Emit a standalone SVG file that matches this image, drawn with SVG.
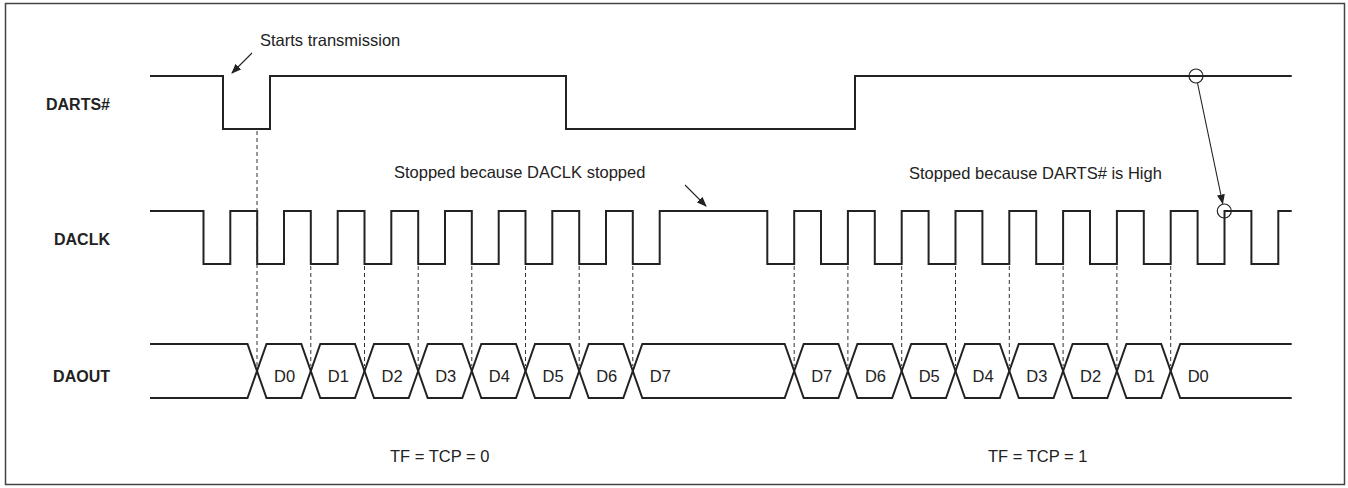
<svg xmlns="http://www.w3.org/2000/svg" width="1348" height="488" viewBox="0 0 1348 488">
<defs>
<style>
.frame{fill:#fff;stroke:#444;stroke-width:1.5}
.sig{fill:none;stroke:#222;stroke-width:2;stroke-linejoin:miter}
.dash{fill:none;stroke:#333;stroke-width:1;stroke-dasharray:4,3}
.ann{fill:none;stroke:#222;stroke-width:1.1}
.circ{fill:none;stroke:#222;stroke-width:1.2}
.lbl{font-family:"Liberation Sans",Arial,sans-serif;font-size:16px;font-weight:bold;fill:#222}
.txt{font-family:"Liberation Sans",Arial,sans-serif;font-size:16.5px;fill:#222}
</style>
<marker id="ah" markerWidth="10" markerHeight="8" refX="9" refY="4" orient="auto" markerUnits="userSpaceOnUse">
<path d="M0,0 L10,4 L0,8 Z" fill="#222"/>
</marker>
</defs>
<rect class="frame" x="5.5" y="3.5" width="1339" height="481"/>

<g id="DARTS">
<text class="lbl" x="110" y="110" text-anchor="end">DARTS#</text>
<path class="sig" d="M150,76 H223 V129 H270 V76 H566 V129 H855 V76 H1291.7"/>
</g>

<g id="DACLK">
<text class="lbl" x="110" y="244.5" text-anchor="end">DACLK</text>
<path class="sig" d="M150,211 H203.5 V264 H230.3 V211 H257.2 V264 H284 V211 H310.8 V264 H337.7 V211 H364.5 V264 H391.3 V211 H418.2 V264 H445 V211 H471.8 V264 H498.7 V211 H525.5 V264 H552.3 V211 H579.2 V264 H606 V211 H632.8 V264 H659.7 V211 H767.3 V264 H794.2 V211 H821 V264 H847.9 V211 H874.8 V264 H901.7 V211 H928.6 V264 H955.5 V211 H982.4 V264 H1009.3 V211 H1036.2 V264 H1063.1 V211 H1090 V264 H1116.9 V211 H1143.8 V264 H1170.7 V211 H1197.6 V264 H1224.5 V211 H1251.4 V264 H1278.3 V211 H1291.7"/>
</g>

<g id="DAOUT">
<text class="lbl" x="110" y="382" text-anchor="end">DAOUT</text>
<path class="sig" d="M150,344 H247.5 L266.5,398 H301.3 L320.3,344 H355 L374,398 H408.7 L427.7,344 H462.3 L481.3,398 H516 L535,344 H569.7 L588.7,398 H623.3 L642.3,344 H784.7 L803.7,398 H838.4 L857.4,344 H892.2 L911.2,398 H946 L965,344 H999.8 L1018.8,398 H1053.6 L1072.6,344 H1107.4 L1126.4,398 H1161.2 L1180.2,344 H1291.7"/>
<path class="sig" d="M150,398 H247.5 L266.5,344 H301.3 L320.3,398 H355 L374,344 H408.7 L427.7,398 H462.3 L481.3,344 H516 L535,398 H569.7 L588.7,344 H623.3 L642.3,398 H784.7 L803.7,344 H838.4 L857.4,398 H892.2 L911.2,344 H946 L965,398 H999.8 L1018.8,344 H1053.6 L1072.6,398 H1107.4 L1126.4,344 H1161.2 L1180.2,398 H1291.7"/>
<text class="txt" x="274" y="382">D0</text>
<text class="txt" x="327.8" y="382">D1</text>
<text class="txt" x="381.5" y="382">D2</text>
<text class="txt" x="435.2" y="382">D3</text>
<text class="txt" x="488.8" y="382">D4</text>
<text class="txt" x="542.5" y="382">D5</text>
<text class="txt" x="596.2" y="382">D6</text>
<text class="txt" x="649.8" y="382">D7</text>
<text class="txt" x="811.2" y="382">D7</text>
<text class="txt" x="864.9" y="382">D6</text>
<text class="txt" x="918.7" y="382">D5</text>
<text class="txt" x="972.5" y="382">D4</text>
<text class="txt" x="1026.3" y="382">D3</text>
<text class="txt" x="1080.1" y="382">D2</text>
<text class="txt" x="1133.9" y="382">D1</text>
<text class="txt" x="1187.7" y="382">D0</text>
</g>

<g id="connectors">
<path class="dash" d="M257,131 V366 M310.8,266 V366 M364.5,266 V366 M418.2,266 V366 M471.8,266 V366 M525.5,266 V366 M579.2,266 V366 M632.8,266 V366 M794.2,266 V366 M847.9,266 V366 M901.7,266 V366 M955.5,266 V366 M1009.3,266 V366 M1063.1,266 V366 M1116.9,266 V366 M1170.7,266 V366"/>
<line class="ann" x1="252" y1="53" x2="232" y2="73" marker-end="url(#ah)"/>
<line class="ann" x1="685" y1="185" x2="706" y2="206" marker-end="url(#ah)"/>
<circle class="circ" cx="1196" cy="76" r="7"/>
<circle class="circ" cx="1224.3" cy="211" r="7"/>
<line class="ann" x1="1197.5" y1="83" x2="1222.7" y2="203.5" marker-end="url(#ah)"/>
</g>

<g id="annotations">
<text class="txt" x="260" y="45.7">Starts transmission</text>
<text class="txt" x="394" y="178.3">Stopped because DACLK stopped</text>
<text class="txt" x="909" y="178.5">Stopped because DARTS# is High</text>
<text class="txt" x="390" y="462">TF = TCP = 0</text>
<text class="txt" x="988" y="462">TF = TCP = 1</text>
</g>
</svg>
